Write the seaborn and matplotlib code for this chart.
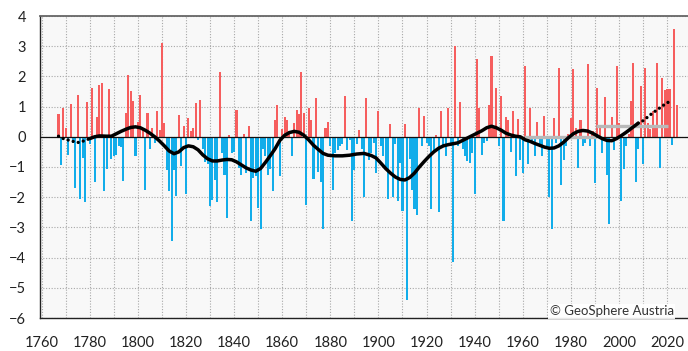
import numpy as np
import pandas as pd
import matplotlib
matplotlib.use("Agg")
import matplotlib.pyplot as plt
import seaborn as sns

# ---------------- data ----------------
first_year = 1767
anom_1767 = [0.75, -0.95, 0.95]
anom_1770s = [0.3, -0.6, 1.1, -0.2, -1.7, 1.4, -2.05, -0.7, -2.15, 1.15]
anom_1780s = [-0.25, 1.6, -1.5, 0.65, 1.72, 1.78, -1.8, -1.05, 1.58, -0.75]
anom_1790s = [-0.65, -0.6, -0.3, -0.35, -1.45, 0.78, 2.05, 1.5, 1.2, -0.65]
anom_1800s = [0.5, 1.4, 0.3, -1.75, 0.8, -0.4, 0.3, -0.2, 0.87, 0.23]
anom_1810s = [3.12, 0.45, -1.1, -1.8, -3.44, -1.1, -1.95, 0.73, -0.98, 0.36]
anom_1820s = [-1.9, 0.62, 0.2, 0.3, 1.11, -0.1, 1.22, -0.4, -0.85, -0.9]
anom_1830s = [-2.3, -2.08, -1.42, -2.17, 2.13, -0.54, -1.26, -2.7, 0.05, -0.54]
anom_1840s = [-0.5, 0.9, -1.04, -1.26, 0.08, -1.2, 0.36, -2.8, -1.35, -1.3]
anom_1850s = [-2.35, -3.05, -0.4, -0.65, -1.25, -1.05, -1.8, 0.55, 1.05, -1.3]
anom_1860s = [0.25, 0.67, 0.56, 0.2, -0.65, 0.45, 0.9, 0.75, 2.13, 0.78]
anom_1870s = [-2.25, 0.95, 0.56, -1.4, 1.3, -1.15, -1.5, -3.05, 0.3, 0.5]
anom_1880s = [-0.3, -1.75, -0.55, -0.45, -0.3, -0.25, 1.34, -0.45, -0.1, -2.8]
anom_1890s = [-1.1, -0.25, 0.23, -0.4, -2.0, 1.3, -0.76, -0.54, -0.2, -1.2]
anom_1900s = [0.86, -0.3, -0.65, -1.1, -2.05, 0.42, -2.0, -0.25, -2.14, -0.87]
anom_1910s = [-2.47, 0.43, -5.4, -0.75, -1.75, -2.4, -2.58, 0.97, -0.3, 0.7]
anom_1920s = [-0.2, -0.3, -2.38, -0.54, 0.05, -2.5, 0.86, -0.3, -0.65, 0.95]
anom_1930s = [-0.3, -4.15, 3.0, -0.3, 1.14, -0.4, -0.65, -0.8, -0.87, -0.54]
anom_1940s = [-1.9, 2.57, 0.95, -0.6, -0.2, -0.15, 1.06, 2.66, 0.3, 1.6]
anom_1950s = [-0.3, 1.34, -2.8, 0.67, 0.56, -0.5, 0.84, -1.3, 0.6, -0.76]
anom_1960s = [-1.2, 2.35, -0.9, 0.95, -0.2, -0.65, 0.49, -0.3, -0.65, 0.7]
anom_1970s = [-0.3, -2.0, -3.05, 0.62, -0.2, 2.27, -1.6, -0.76, -0.3, 0.1]
anom_1980s = [0.62, 2.24, 0.3, -1.04, 0.56, -0.3, -0.2, 2.42, -0.3, 0.2]
anom_1990s = [-1.53, 1.6, 0.34, -0.52, 1.31, -1.26, -2.88, 0.65, -0.43, 2.33]
anom_2000s = [0.47, -2.14, -1.07, -0.3, 0.1, 1.17, 2.44, -1.51, -0.4, 1.67]
anom_2010s = [-0.9, 2.27, 0.45, 0.25, 0.84, 0.34, 2.44, -1.04, 1.94, 1.56]
anom_2020s = [1.58, 1.58, -0.27, 3.56, 1.06]

# smoothed curve (dotted at both ends, solid in the middle)
smooth_start_years = [1767, 1769, 1772, 1775, 1777, 1780]
smooth_start_vals = [0.02, -0.06, -0.13, -0.19, -0.15, -0.06]
smooth_years = [1780, 1782, 1784, 1787, 1789, 1791, 1793, 1795, 1797, 1799, 1801, 1803,
                1805, 1807, 1809, 1811, 1813, 1815, 1817, 1819, 1821, 1823, 1825, 1827,
                1829, 1831, 1833, 1835, 1837, 1839, 1841, 1843, 1845, 1847, 1849, 1851,
                1853, 1855, 1857, 1859, 1861, 1863, 1865, 1867, 1869, 1871, 1873, 1875,
                1877, 1879, 1882, 1885, 1888, 1891, 1894, 1897, 1899, 1901, 1903, 1905,
                1907, 1909, 1911, 1913, 1915, 1917, 1919, 1921, 1923, 1925, 1927, 1929,
                1931, 1933, 1935, 1937, 1939, 1941, 1943, 1945, 1947, 1949, 1951, 1953,
                1955, 1957, 1959, 1961, 1963, 1965, 1967, 1969, 1971, 1973, 1975, 1977,
                1979, 1981, 1983, 1985, 1987, 1989, 1991, 1993, 1995, 1997, 1999, 2001,
                2003, 2005, 2007, 2008]
smooth_vals = [-0.06, 0.0, 0.03, 0.02, 0.02, 0.1, 0.18, 0.25, 0.31, 0.33, 0.3, 0.22,
               0.12, 0.0, -0.14, -0.3, -0.47, -0.56, -0.5, -0.36, -0.3, -0.33, -0.43, -0.6,
               -0.73, -0.8, -0.8, -0.77, -0.75, -0.76, -0.83, -0.93, -1.03, -1.1, -1.14, -1.05,
               -0.85, -0.63, -0.4, -0.12, 0.05, 0.14, 0.18, 0.15, 0.05, -0.1, -0.28, -0.42,
               -0.55, -0.61, -0.63, -0.63, -0.61, -0.57, -0.55, -0.62, -0.7, -0.87, -1.05, -1.2,
               -1.33, -1.41, -1.43, -1.35, -1.2, -1.0, -0.82, -0.65, -0.5, -0.38, -0.3, -0.26,
               -0.23, -0.2, -0.12, -0.04, 0.04, 0.12, 0.2, 0.3, 0.35, 0.3, 0.22, 0.12,
               0.06, 0.02, 0.0, -0.1, -0.15, -0.22, -0.28, -0.34, -0.38, -0.37, -0.3, -0.18,
               -0.03, 0.1, 0.18, 0.21, 0.19, 0.12, 0.03, -0.06, -0.12, -0.13, -0.06, 0.04,
               0.15, 0.27, 0.39, 0.45]
smooth_end_years = [2008, 2010, 2012, 2014, 2016, 2018, 2020, 2022]
smooth_end_vals = [0.45, 0.53, 0.66, 0.79, 0.9, 1.02, 1.12, 1.22]

# reference period means (grey lines)
ref_starts = [1960.5, 1990.5]
ref_ends = [1990.5, 2020.5]
ref_means = [0.0, 0.37]

x_tick_years = list(range(1760, 2021, 20))
y_ticks = list(range(-6, 5))
credit = "© GeoSphere Austria"

# ---------------- build table ----------------
anom = (anom_1767 + anom_1770s + anom_1780s + anom_1790s + anom_1800s + anom_1810s +
        anom_1820s + anom_1830s + anom_1840s + anom_1850s + anom_1860s + anom_1870s +
        anom_1880s + anom_1890s + anom_1900s + anom_1910s + anom_1920s + anom_1930s +
        anom_1940s + anom_1950s + anom_1960s + anom_1970s + anom_1980s + anom_1990s +
        anom_2000s + anom_2010s + anom_2020s)
years = list(range(first_year, first_year + len(anom)))
df = pd.DataFrame({"year": years, "anom": anom})
df["sign"] = np.where(df["anom"] >= 0, "pos", "neg")

RED = "#F65E5E"
BLUE = "#12ADEA"

# ---------------- plot ----------------
sns.set_theme(style="white")
plt.rcParams["font.family"] = ["Lato", "DejaVu Sans"]

fig = plt.figure(figsize=(6.88, 3.51), dpi=100)
ax = fig.add_axes([40 / 688, 33 / 351, 648 / 688, 302 / 351])
ax.set_facecolor("#f8f8f8")

sns.barplot(data=df, x="year", y="anom", hue="sign",
            palette={"pos": RED, "neg": BLUE}, native_scale=True,
            width=0.85, dodge=False, errorbar=None, saturation=1,
            legend=False, ax=ax, zorder=2, linewidth=0)

ax.axhline(0, color="#111111", lw=0.9, zorder=3)

for s, e, m in zip(ref_starts, ref_ends, ref_means):
    ax.plot([s, e], [m, m], color="#b9b9b9", lw=2.4, zorder=4,
            solid_capstyle="butt")

sns.lineplot(x=smooth_years, y=smooth_vals, color="black", lw=2.5,
             ax=ax, zorder=5, sort=False)
for yy, vv in ((smooth_start_years, smooth_start_vals),
               (smooth_end_years, smooth_end_vals)):
    ax.plot(yy, vv, color="black", lw=2.4, zorder=5,
            linestyle=(0, (0.01, 1.55)), dash_capstyle="round")

ax.set_xlim(1759.3, 2028.7)
ax.set_ylim(-6, 4)
ax.set_xticks(x_tick_years)
ax.set_xticks(range(1770, 2030, 10), minor=True)
ax.set_yticks(y_ticks)
ax.grid(True, which="both", axis="x", color="#a8a8a8", lw=0.8, ls=(0, (1, 1.5)), zorder=0)
ax.grid(True, which="major", axis="y", color="#a8a8a8", lw=0.8, ls=(0, (1, 1.5)), zorder=0)
ax.set_axisbelow(True)

ax.tick_params(axis="x", which="major", length=0, pad=13, labelsize=10.5,
               labelcolor="#222222")
ax.tick_params(axis="x", which="minor", length=0)
ax.tick_params(axis="y", length=0, pad=10, labelsize=10.5, labelcolor="#222222")
ax.set_xlabel("")
ax.set_ylabel("")

for side in ("left", "bottom"):
    ax.spines[side].set_color("#222222")
    ax.spines[side].set_linewidth(1.0)
ax.spines["top"].set_color("#666666")
ax.spines["top"].set_linewidth(1.3)
ax.spines["right"].set_visible(False)

ax.text(0.978, 0.022, credit, transform=ax.transAxes, ha="right", va="center",
        fontsize=9.5, color="#333333", zorder=6,
        bbox=dict(facecolor="white", edgecolor="none", pad=1.0, alpha=0.9))

fig.savefig("out.png", dpi=100)
